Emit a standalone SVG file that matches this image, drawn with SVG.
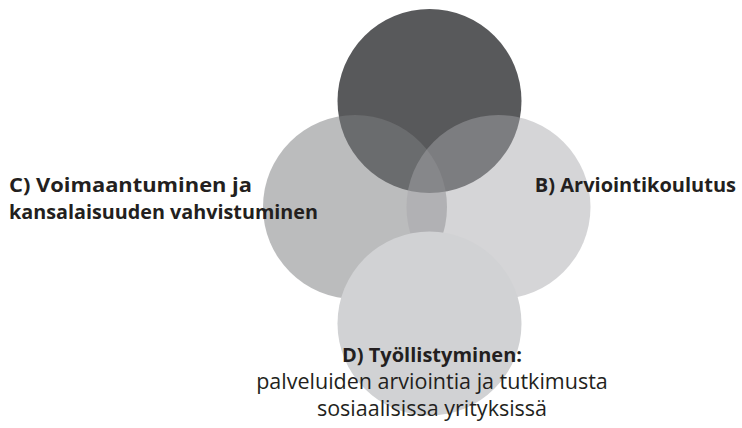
<svg xmlns="http://www.w3.org/2000/svg" width="742" height="428" viewBox="0 0 742 428">
<style>
text{font-family:"Open Sans","Noto Sans","Liberation Sans",sans-serif;fill:#231f20;font-size:20px}
.b{font-weight:bold}
.r{font-size:21.5px}
</style>
<rect width="742" height="428" fill="#ffffff"/>
<g id="top"><circle cx="429.5" cy="101" r="92" fill="#58595b"/></g>
<g id="left"><circle cx="355" cy="207" r="92" fill="#7c7d80" fill-opacity="0.518"/></g>
<g id="right"><circle cx="498.5" cy="207" r="92" fill="#a5a6a9" fill-opacity="0.47"/></g>
<g id="bottom"><circle cx="429.5" cy="323.5" r="92" fill="#d1d2d4"/></g>
<g id="connectors"></g>
<g id="labelC">
<text class="b" x="9" y="192" textLength="243" lengthAdjust="spacingAndGlyphs">C) Voimaantuminen ja</text>
<text class="b" x="9" y="219" textLength="309" lengthAdjust="spacingAndGlyphs">kansalaisuuden vahvistuminen</text>
</g>
<g id="labelB"><text class="b" x="736" y="192" text-anchor="end">B) Arviointikoulutus</text></g>
<g id="labelD">
<text class="b" x="432" y="362" text-anchor="middle">D) Työllistyminen:</text>
<text class="r" x="432" y="389" text-anchor="middle">palveluiden arviointia ja tutkimusta</text>
<text class="r" x="432" y="416" text-anchor="middle">sosiaalisissa yrityksissä</text>
</g>
</svg>
